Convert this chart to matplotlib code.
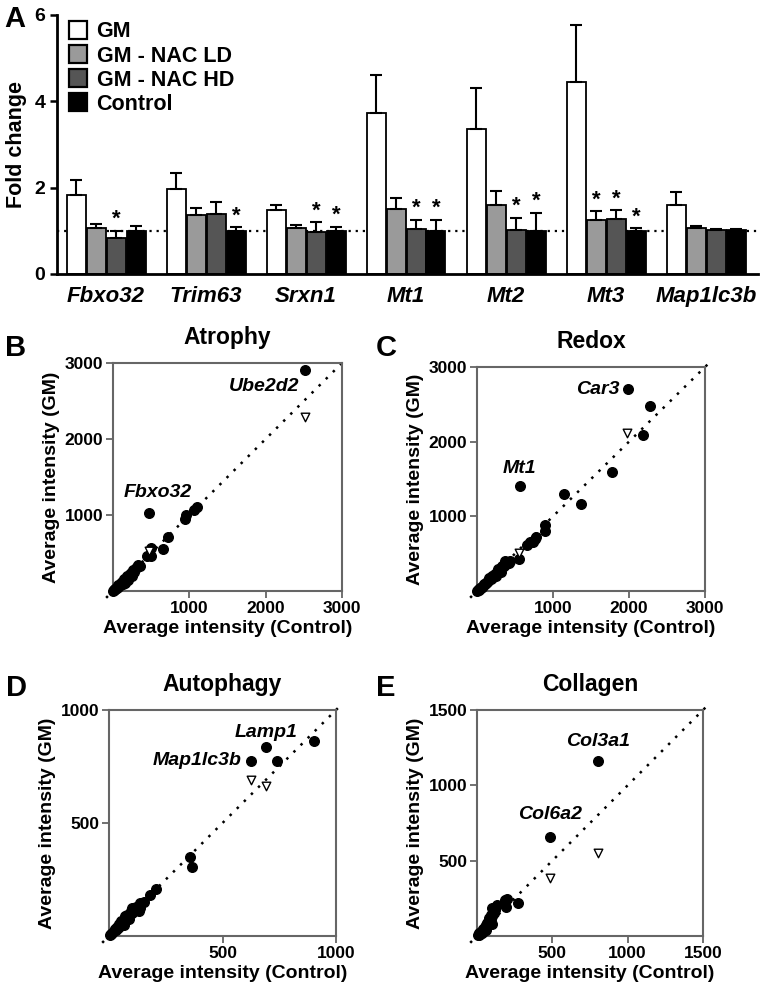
import matplotlib
matplotlib.use("Agg")
import matplotlib.pyplot as plt
from matplotlib import font_manager
import numpy as np

plt.rcParams['font.family'] = ['Liberation Sans', 'DejaVu Sans']
plt.rcParams['font.weight'] = 'bold'

# ---------------- Panel A data ----------------
genes = ["Fbxo32", "Trim63", "Srxn1", "Mt1", "Mt2", "Mt3", "Map1lc3b"]
groups = ["GM", "GM - NAC LD", "GM - NAC HD", "Control"]
gm_mean = [1.83, 1.97, 1.48, 3.74, 3.37, 4.45, 1.60]
gm_sem = [0.35, 0.36, 0.12, 0.88, 0.93, 1.32, 0.31]
ld_mean = [1.07, 1.37, 1.06, 1.50, 1.60, 1.24, 1.06]
ld_sem = [0.08, 0.15, 0.08, 0.27, 0.32, 0.21, 0.06]
hd_mean = [0.83, 1.40, 0.97, 1.05, 1.03, 1.27, 1.02]
hd_sem = [0.17, 0.26, 0.23, 0.20, 0.27, 0.21, 0.03]
ct_mean = [1.00, 1.00, 1.00, 1.00, 1.00, 1.00, 1.02]
ct_sem = [0.12, 0.08, 0.09, 0.26, 0.42, 0.06, 0.02]
ld_star = [False, False, False, False, False, True, False]
hd_star = [True, False, True, True, True, True, False]
ct_star = [False, True, True, True, True, True, False]
bar_colors = ["white", "#9a9a9a", "#555555", "black"]

# ---------------- Scatter data ----------------
atrophy_ctrl = [2520, 475, 1100, 1060, 960, 940, 720, 650, 500, 500, 440, 350, 320, 300, 280, 260, 240,
                220, 200, 180, 170, 150, 140, 120, 110, 100, 90, 80, 70, 60, 50, 40, 30, 20, 15, 10, 5,
                250, 200, 160, 130, 330]
atrophy_gm = [2910, 1020, 1100, 1065, 1000, 950, 710, 550, 570, 460, 460, 330, 320, 300, 250, 280, 240,
              230, 190, 200, 150, 160, 130, 120, 100, 90, 85, 70, 75, 50, 45, 40, 25, 20, 10, 12, 5,
              200, 150, 110, 95, 340]
atrophy_tri_ctrl = [2520, 470]
atrophy_tri_gm = [2290, 520]

redox_ctrl = [1990, 2280, 2180, 1770, 1140, 1370, 560, 900, 900, 780, 760, 740, 700, 660, 555,
              430, 420, 400, 380, 370, 350, 330, 300, 280, 260, 240, 220, 200, 180, 160, 150, 130,
              120, 100, 90, 80, 70, 60, 50, 40, 30, 20, 10, 5, 320, 250, 200]
redox_gm = [2700, 2480, 2090, 1590, 1300, 1160, 1400, 880, 800, 720, 690, 660, 650, 620, 430,
            400, 380, 390, 360, 400, 330, 340, 280, 300, 250, 230, 220, 180, 160, 170, 130, 120,
            110, 90, 100, 70, 60, 55, 45, 35, 30, 15, 10, 5, 250, 200, 200]
redox_tri_ctrl = [1970, 555]
redox_tri_gm = [2110, 510]

autophagy_ctrl = [690, 625, 740, 905, 355, 365, 205, 180, 155, 135, 135, 100, 100, 70,
                  120, 110, 95, 85, 80, 75, 70, 60, 55, 50, 45, 40, 35, 30, 25, 20, 15, 10, 5, 130, 90, 65]
autophagy_gm = [835, 775, 775, 865, 350, 305, 210, 180, 150, 145, 125, 125, 100, 90,
                130, 110, 110, 85, 95, 70, 80, 60, 65, 45, 55, 35, 40, 25, 30, 20, 12, 10, 5, 110, 75, 50]
autophagy_tri_ctrl = [625, 690]
autophagy_tri_gm = [690, 665]

collagen_ctrl = [805, 485, 270, 200, 185, 195, 130, 120, 100, 110, 100, 90, 95, 80, 85, 70, 75,
                 60, 65, 50, 55, 40, 45, 30, 25, 20, 15, 10, 5, 35, 60, 100]
collagen_gm = [1160, 660, 220, 245, 240, 190, 205, 175, 185, 150, 130, 140, 110, 120, 100, 95, 80,
               70, 85, 60, 50, 45, 35, 30, 25, 15, 20, 8, 5, 20, 40, 80]
collagen_tri_ctrl = [805, 485]
collagen_tri_gm = [550, 385]

W, H = 760, 992
fig = plt.figure(figsize=(W / 100, H / 100), dpi=100)

_names = {f.name for f in font_manager.fontManager.ttflist}
LETTER_FAMILY = ['Liberation Sans Narrow', 'Liberation Sans'] if 'Liberation Sans Narrow' in _names \
    else ['Liberation Sans']


def rect(l, t, r, b):
    return [l / W, 1 - b / H, (r - l) / W, (b - t) / H]


def letter(x, y, s):
    fig.text(x / W, 1 - y / H, s, fontsize=21, fontweight='bold', ha='center', va='center',
             family=LETTER_FAMILY)


# ---------------- Panel A ----------------
axA = fig.add_axes(rect(57, 15, 758, 274))
x = np.arange(len(genes))
bw = 0.2
means = [gm_mean, ld_mean, hd_mean, ct_mean]
sems = [gm_sem, ld_sem, hd_sem, ct_sem]
stars = [None, ld_star, hd_star, ct_star]
axA.axhline(1, color='black', linestyle=(0, (1, 2.2)), lw=1.6, zorder=1)
for k in range(4):
    pos = x + (k - 1.5) * bw
    axA.bar(pos, means[k], width=bw * 0.95, color=bar_colors[k], edgecolor='black', lw=1.3,
            zorder=2, label=groups[k])
    axA.errorbar(pos, means[k], yerr=[np.zeros(len(genes)), sems[k]], fmt='none', ecolor='black',
                 elinewidth=1.5, capsize=4, capthick=1.5, zorder=3)
    if stars[k] is not None:
        for i, s in enumerate(stars[k]):
            if s:
                axA.text(pos[i], means[k][i] + sems[k][i] + 0.02, "*", ha='center', va='bottom',
                         fontsize=16, fontweight='bold')
axA.set_xlim(-0.49, 6.52)
axA.set_ylim(0, 6)
axA.set_yticks([0, 2, 4, 6])
axA.set_xticks(x)
axA.set_xticklabels(genes, fontstyle='italic', fontweight='bold', fontsize=16)
axA.tick_params(axis='x', length=0, pad=9)
axA.tick_params(axis='y', length=5, width=1.8, labelsize=14)
for lab in axA.get_yticklabels():
    lab.set_fontweight('bold')
axA.spines['top'].set_visible(False)
axA.spines['right'].set_visible(False)
axA.spines['left'].set_linewidth(2)
axA.spines['bottom'].set_linewidth(2)
axA.set_ylabel("Fold change", fontsize=15.5, fontweight='bold', labelpad=5)
leg = axA.legend(loc='upper left', bbox_to_anchor=(-0.005, 1.035), frameon=False,
                 handlelength=0.85, handleheight=0.9, handletextpad=0.45, labelspacing=0.13,
                 borderaxespad=0.3, prop={'weight': 'bold', 'size': 15.5})
for p in leg.get_patches():
    p.set_linewidth(1.6)
letter(15, 19, "A")


def scatter_panel(r, ctrl, gm, tctrl, tgm, lim, ticks, title, let, lpos, labels):
    ax = fig.add_axes(rect(*r))
    m = lim * 1.02
    ax.plot([-lim * 0.03, m], [-lim * 0.03, m], color='black', linestyle=(0, (1, 3)), lw=1.8,
            clip_on=False, zorder=1)
    ax.scatter(ctrl, gm, s=48, color='black', zorder=3, clip_on=False)
    ax.scatter(tctrl, tgm, s=38, marker='v', facecolor='white', edgecolor='black', lw=1,
               zorder=4, clip_on=False)
    ax.set_xlim(0, lim)
    ax.set_ylim(0, lim)
    ax.set_xticks(ticks)
    ax.set_yticks(ticks)
    ax.tick_params(length=5, width=1.3, color='#666666', labelsize=12.5, pad=2)
    for lab in ax.get_xticklabels() + ax.get_yticklabels():
        lab.set_fontweight('bold')
    for sp in ax.spines.values():
        sp.set_color('#666666')
        sp.set_linewidth(1.5)
    ax.set_xlabel("Average intensity (Control)", fontsize=14, fontweight='bold', labelpad=3)
    ax.set_ylabel("Average intensity (GM)", fontsize=14, fontweight='bold', labelpad=3)
    ax.set_title(title, fontsize=16.5, fontweight='bold', pad=14)
    letter(lpos[0], lpos[1], let)
    for (txt, px, py, dx, dy, ha) in labels:
        ax.annotate(txt, (px, py), xytext=(dx, dy), textcoords='offset points', ha=ha,
                    va='center', fontsize=14, fontweight='bold', fontstyle='italic')
    return ax


scatter_panel((113, 363, 342, 591), atrophy_ctrl, atrophy_gm, atrophy_tri_ctrl, atrophy_tri_gm,
              3000, [1000, 2000, 3000], "Atrophy", "B", (16, 348),
              [("Ube2d2", 2520, 2910, -4, -12, 'right'), ("Fbxo32", 475, 1020, 6, 15, 'center')])
scatter_panel((477, 367, 705, 591), redox_ctrl, redox_gm, redox_tri_ctrl, redox_tri_gm,
              3000, [1000, 2000, 3000], "Redox", "C", (386, 348),
              [("Car3", 1990, 2700, -6, 0, 'right'), ("Mt1", 560, 1400, 0, 13, 'center')])
scatter_panel((109, 710, 336, 936), autophagy_ctrl, autophagy_gm, autophagy_tri_ctrl, autophagy_tri_gm,
              1000, [500, 1000], "Autophagy", "D", (16, 688),
              [("Lamp1", 690, 835, 0, 11, 'center'), ("Map1lc3b", 625, 775, -7, 0, 'right')])
scatter_panel((477, 710, 703, 936), collagen_ctrl, collagen_gm, collagen_tri_ctrl, collagen_tri_gm,
              1500, [500, 1000, 1500], "Collagen", "E", (386, 688),
              [("Col3a1", 805, 1160, 0, 14, 'center'), ("Col6a2", 485, 660, 0, 16, 'center')])

fig.savefig("out.png", dpi=100)
